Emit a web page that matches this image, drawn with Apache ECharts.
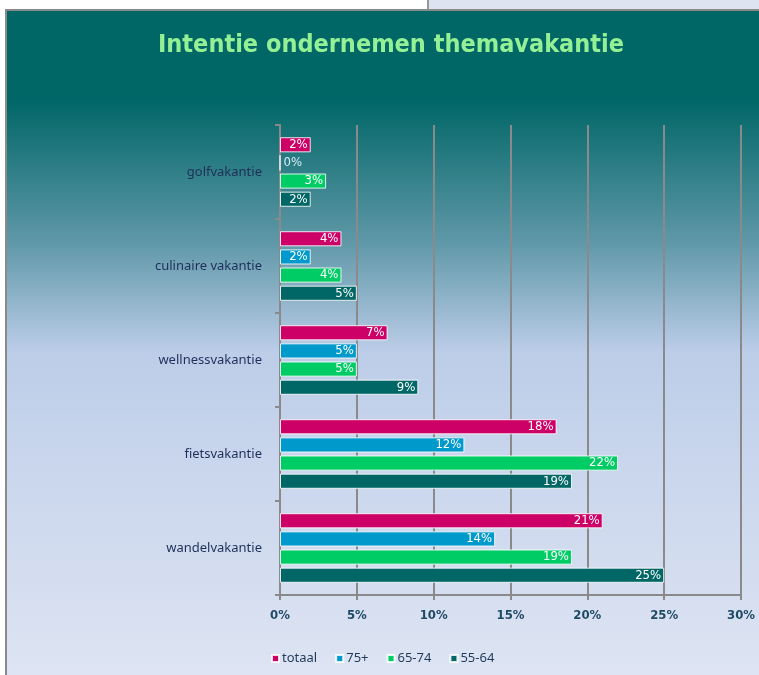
<!DOCTYPE html>
<html>
<head>
<meta charset="utf-8">
<script src="https://cdn.jsdelivr.net/npm/echarts@6/dist/echarts.min.js"></script>
<style>
  body { margin: 0; background: #fff; }
  #wrap { position: relative; width: 759px; height: 675px; overflow: hidden; }
  #topright { position: absolute; left: 427px; top: 0; width: 332px; height: 10px; background: #dde3f0; border-left: 2px solid #999; }
  #frame { position: absolute; left: 5px; top: 9px; width: 770px; height: 680px;
    border-left: 2px solid #8a8a8a; border-top: 2px solid #8a8a8a;
    background: linear-gradient(to bottom, #006666 0%, #006666 13%, #5f98a8 34%, #bccde8 50%, #c8d5ec 65%, #dfe5f3 100%); }
  #chart { position: absolute; left: 0; top: 0; width: 759px; height: 675px; }
</style>
</head>
<body>
<div id="wrap">
  <div id="topright"></div>
  <div id="frame"></div>
  <div id="chart"></div>
</div>
<script>
// data
const categories = ['golfvakantie', 'culinaire vakantie', 'wellnessvakantie', 'fietsvakantie', 'wandelvakantie'];
const seriesNames = ['totaal', '75+', '65-74', '55-64'];
const totaal = [2, 4, 7, 18, 21];
const plus75 = [0, 2, 5, 12, 14];
const age6574 = [3, 4, 5, 22, 19];
const age5564 = [2, 5, 9, 19, 25];
const xTicks = { min: 0, max: 30, interval: 5 };

const colors = ['#cc0066', '#0099cc', '#00cc66', '#006666'];
const values = [totaal, plus75, age6574, age5564];
const narrow = 'Liberation Sans Narrow, DejaVu Sans Condensed, sans-serif';

const myChart = echarts.init(document.getElementById('chart'));

const series = values.map((vals, i) => ({
    name: seriesNames[i],
    type: 'bar',
    barGap: '20%',
    barCategoryGap: '26%',
    itemStyle: { color: colors[i], borderColor: 'rgba(255,255,255,0.85)', borderWidth: 1 },
    label: {
        show: true,
        position: 'insideRight',
        formatter: '{c}%',
        color: '#fff',
        fontSize: 13,
        fontFamily: narrow,
        distance: 3
    },
    data: vals.map(v => v === 0
        ? { value: v, label: { position: 'right', color: '#d8ecf0' } }
        : v)
}));

const option = {
    animation: false,
    title: {
        text: 'Intentie ondernemen themavakantie',
        left: 386,
        top: 28,
        textAlign: 'center',
        textStyle: {
            color: '#94f094',
            fontSize: 25,
            fontWeight: 'bold',
            fontFamily: narrow
        }
    },
    legend: {
        data: seriesNames,
        left: 266,
        top: 647,
        icon: 'rect',
        itemWidth: 7,
        itemHeight: 7,
        itemGap: 18,
        textStyle: {
            color: '#1f3a5a',
            fontSize: 13,
            fontFamily: 'Noto Sans, sans-serif',
            padding: [0, 0, 0, -2]
        }
    },
    grid: { left: 280, right: 18, top: 125, bottom: 80 },
    xAxis: {
        type: 'value',
        min: xTicks.min,
        max: xTicks.max,
        interval: xTicks.interval,
        axisLine: { show: true, lineStyle: { color: '#8a8a8a', width: 2 } },
        axisTick: { show: true, length: 5, lineStyle: { color: '#8a8a8a', width: 2 } },
        splitLine: { show: true, lineStyle: { color: '#8a8a8a', width: 2 } },
        axisLabel: {
            formatter: '{value}%',
            color: '#1f4a66',
            fontSize: 13,
            fontWeight: 'bold',
            margin: 14,
            fontFamily: narrow
        }
    },
    yAxis: {
        type: 'category',
        data: categories,
        inverse: true,
        axisLine: { show: true, lineStyle: { color: '#8a8a8a', width: 2 } },
        axisTick: { show: true, length: 5, lineStyle: { color: '#8a8a8a', width: 2 } },
        axisLabel: {
            color: '#1f2f5a',
            fontSize: 13,
            margin: 18,
            fontFamily: 'Noto Sans, sans-serif'
        }
    },
    series: series
};

myChart.setOption(option, true);
</script>
</body>
</html>
